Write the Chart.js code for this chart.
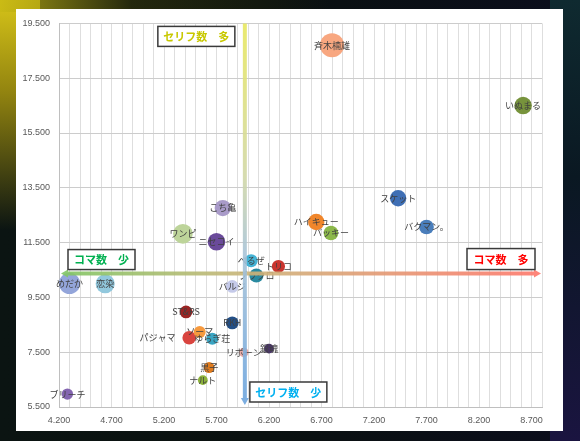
<!DOCTYPE html>
<html lang="ja">
<head>
<meta charset="utf-8">
<script src="https://cdn.jsdelivr.net/npm/chart.js@4.4.1/dist/chart.umd.min.js"></script>
<style>
  html, body { margin: 0; padding: 0; }
  body {
    width: 580px; height: 441px; overflow: hidden; position: relative;
    background: linear-gradient(90deg, #0b1412 0%, #0a1110 45%, #0b0d1c 100%);
  }
  #glowLeft {
    position: absolute; left: 0; top: 0; width: 40px; height: 230px;
    background: linear-gradient(180deg, rgba(225,205,25,0.95) 0%, rgba(180,160,15,0.8) 40%, rgba(20,30,20,0) 100%);
  }
  #glowTop {
    position: absolute; left: 0; top: 0; width: 330px; height: 12px;
    background: linear-gradient(90deg, rgba(200,185,20,0.8) 0%, rgba(60,60,10,0.5) 40%, rgba(0,0,0,0) 100%);
  }
  #glowRight {
    position: absolute; right: 0; top: 0; width: 30px; height: 441px;
    background: linear-gradient(180deg, #0f2a30 0%, #0a1822 40%, #1a1440 100%);
  }
  #box {
    position: absolute; left: 16px; top: 9px; width: 547px; height: 422px;
    background: #ffffff;
  }
  canvas { display: block; }
</style>
</head>
<body>
<div id="glowLeft"></div>
<div id="glowTop"></div>
<div id="glowRight"></div>
<div id="box"><canvas id="bubble-chart" width="547" height="422"></canvas></div>

<script>
// 作品ごとの値 (コマ数・セリフ数・バブルの大きさ)
const titles = ['斉木楠雄', 'いぬまる', 'スケット', 'バクマン。', 'ハイキュー', 'バッキー',
    'こち亀', 'ワンピ', 'ニセコイ', 'べるぜ', 'トリコ', 'ブラクロ', 'バルジ',
    'めだか', '恋染', 'ST&RS', 'RKH', 'パジャマ', 'ソーマ', 'ゆらぎ荘',
    'リボーン', '銀魂', '黒子', 'ナルト', 'ブリーチ'];
const komaCount = [6800, 8620, 7430, 7700, 6650, 6790,
    5760, 5380, 5700, 6030, 6290, 6080, 5850,
    4300, 4640, 5410, 5850, 5440, 5540, 5660,
    5960, 6200, 5630, 5570, 4280];
const serifuCount = [18700, 16500, 13120, 12070, 12250, 11850,
    12760, 11820, 11530, 10840, 10630, 10300, 9900,
    10010, 10000, 8970, 8570, 8030, 8240, 7990,
    7490, 7630, 6940, 6480, 5970];
const bubbleSize = [145, 77, 67, 54, 67, 54,
    67, 97, 77, 43, 43, 50, 40,
    113, 91, 40, 41, 46, 36, 36,
    23, 24, 30, 24, 32];

// 平均線
const komaAvg = 5970;
const serifuAvg = 10370;

// 軸
const xMin = 4200, xMax = 8800, xStep = 100, xLabelStep = 500;
const yMin = 5500, yMax = 19500, yStep = 2000;

const bubbleColors = ['#F8A780', '#77933C', '#3F6FB5', '#4A7EBB', '#F0862B', '#8CB84A',
    '#A99BC9', '#BDD49A', '#6A4A9A', '#45B3D5', '#C9352F', '#2A8AA0', '#C5CAE9',
    '#93A5DA', '#92C8DD', '#9B2423', '#234F86', '#D9443F', '#F79A3E', '#3AA5C3',
    '#E8AAA6', '#4A3668', '#E07B1D', '#8DB33B', '#8465B0'];
const leftLabels = ['パジャマ'];

const fmt = v => (v / 1000).toFixed(3);

const bubbleLabels = {
    id: 'bubbleLabels',
    afterDatasetsDraw(chart) {
        const ctx = chart.ctx;
        const meta = chart.getDatasetMeta(0);
        ctx.save();
        ctx.font = '9px "Noto Sans CJK JP"';
        ctx.fillStyle = '#404040';
        ctx.textBaseline = 'middle';
        meta.data.forEach((pt, i) => {
            const name = titles[i];
            if (leftLabels.includes(name)) {
                ctx.textAlign = 'right';
                ctx.fillText(name, pt.x - pt.options.radius - 7, pt.y);
            } else {
                ctx.textAlign = 'center';
                ctx.fillText(name, pt.x, pt.y);
            }
        });
        ctx.restore();
    }
};

function drawArrow(ctx, x1, y1, x2, y2, style, headStart) {
    const ang = Math.atan2(y2 - y1, x2 - x1);
    const head = 7, half = 4;
    ctx.strokeStyle = style;
    ctx.fillStyle = style;
    ctx.lineWidth = 4;
    ctx.beginPath();
    ctx.moveTo(x1 + (headStart ? Math.cos(ang) * head : 0), y1 + (headStart ? Math.sin(ang) * head : 0));
    ctx.lineTo(x2 - Math.cos(ang) * head, y2 - Math.sin(ang) * head);
    ctx.stroke();
    const tri = (tx, ty, a) => {
        ctx.beginPath();
        ctx.moveTo(tx, ty);
        ctx.lineTo(tx - Math.cos(a) * head - Math.sin(a) * half, ty - Math.sin(a) * head + Math.cos(a) * half);
        ctx.lineTo(tx - Math.cos(a) * head + Math.sin(a) * half, ty - Math.sin(a) * head - Math.cos(a) * half);
        ctx.closePath();
        ctx.fill();
    };
    tri(x2, y2, ang);
    if (headStart) tri(x1, y1, ang + Math.PI);
}

function drawBox(ctx, text, color, left, top, w, h) {
    ctx.fillStyle = '#ffffff';
    ctx.fillRect(left, top, w, h);
    ctx.strokeStyle = '#3a3a3a';
    ctx.lineWidth = 1.5;
    ctx.strokeRect(left, top, w, h);
    ctx.fillStyle = color;
    ctx.font = 'bold 11px "Noto Sans CJK JP"';
    ctx.textAlign = 'center';
    ctx.textBaseline = 'middle';
    ctx.fillText(text, left + w / 2, top + h / 2 + 0.5);
}

const avgArrows = {
    id: 'avgArrows',
    afterDraw(chart) {
        const {ctx, chartArea: a, scales: {x, y}} = chart;
        const ax = x.getPixelForValue(komaAvg);
        const ay = y.getPixelForValue(serifuAvg);
        ctx.save();
        ctx.globalAlpha = 0.9;

        const gh = ctx.createLinearGradient(a.left, 0, a.right, 0);
        gh.addColorStop(0, '#7FC663');
        gh.addColorStop(0.4, '#CDB47A');
        gh.addColorStop(1, '#FF776B');
        drawArrow(ctx, a.left + 2, ay, a.right - 1, ay, gh, true);

        const gv = ctx.createLinearGradient(0, a.top, 0, a.bottom);
        gv.addColorStop(0, '#E8E860');
        gv.addColorStop(0.4, '#D2D8A8');
        gv.addColorStop(0.6, '#A9C4D8');
        gv.addColorStop(1, '#6BA4DE');
        drawArrow(ctx, ax, a.top, ax, a.bottom - 2, gv, false);

        ctx.globalAlpha = 1;
        drawBox(ctx, 'セリフ数　多', '#C8C800', ax - 10 - 77, a.top + 3, 77, 20);
        drawBox(ctx, 'セリフ数　少', '#00B0F0', ax + 5, a.bottom - 5 - 20, 77, 20);
        drawBox(ctx, 'コマ数　少', '#00B050', a.left + 9, ay - 4 - 20, 67, 20);
        drawBox(ctx, 'コマ数　多', '#FF0000', a.right - 7 - 68, ay - 4 - 21, 68, 21);
        ctx.restore();
    }
};

const tickFont = {family: '"Liberation Sans", Arial, sans-serif', size: 9};

const bubbleData = titles.map((t, i) => ({
    x: komaCount[i],
    y: serifuCount[i],
    r: Math.sqrt(bubbleSize[i]),
}));

const contenedorBubble = document.getElementById('bubble-chart').getContext('2d');

const bubbleChart = new Chart(contenedorBubble, {
    type: 'bubble',
    data: {
        datasets: [
            {
                label: 'コマ数とセリフ数',
                data: bubbleData,
                backgroundColor: bubbleColors,
                borderWidth: 0,
            },
        ],
    },
    options: {
        responsive: false,
        animation: false,
        layout: {padding: {left: 0, right: 21, top: 10, bottom: 0}},
        plugins: {
            legend: {display: false},
            tooltip: {enabled: false},
        },
        scales: {
            x: {
                type: 'linear',
                min: xMin,
                max: xMax,
                ticks: {
                    stepSize: xStep,
                    autoSkip: false,
                    maxRotation: 0,
                    padding: 8,
                    color: '#595959',
                    font: tickFont,
                    callback: v => ((v - xMin) % xLabelStep === 0 ? fmt(v) : ''),
                },
                grid: {color: '#dedede', drawTicks: false},
                border: {color: '#bfbfbf'},
                afterFit: s => { s.height = 24; },
            },
            y: {
                type: 'linear',
                min: yMin,
                max: yMax,
                ticks: {
                    stepSize: yStep,
                    padding: 9,
                    color: '#595959',
                    font: tickFont,
                    callback: v => fmt(v),
                },
                grid: {color: '#cccccc', drawTicks: false},
                border: {color: '#bfbfbf'},
                afterFit: s => { s.width = 43; },
            },
        },
    },
    plugins: [bubbleLabels, avgArrows],
});
</script>
</body>
</html>
